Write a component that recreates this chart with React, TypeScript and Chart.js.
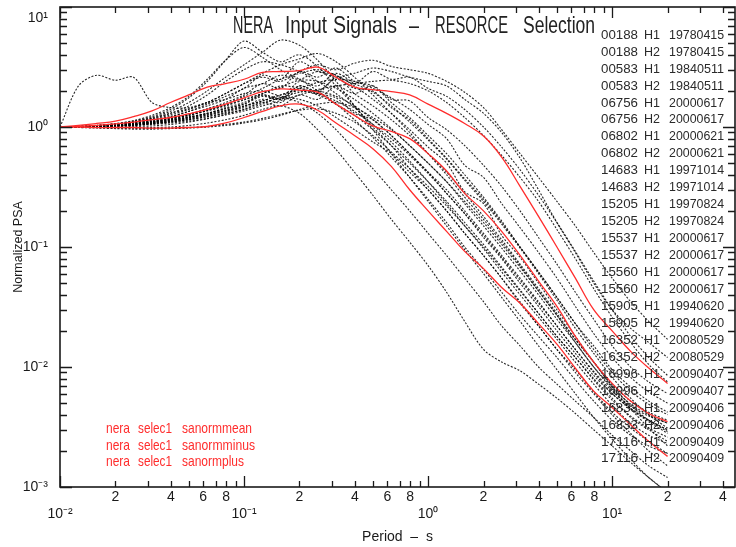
import React, { useEffect, useRef } from 'react';
import { Chart, registerables } from 'chart.js';
Chart.register(...registerables);

// ---------------- data ----------------
const PERIODS = [0.01, 0.0126, 0.0158, 0.02, 0.0251, 0.0316, 0.0398, 0.0501, 0.0631, 0.0794,
  0.1, 0.126, 0.158, 0.2, 0.251, 0.316, 0.398, 0.501, 0.631, 0.794,
  1, 1.26, 1.58, 2, 2.51, 3.16, 3.98, 5.01, 6.31, 7.94,
  10, 12.6, 15.8, 20];

const SANORM_MEAN = [1.0, 1.01, 1.03, 1.06, 1.1, 1.15, 1.2, 1.29, 1.4, 1.55, 1.75, 1.97, 2.08, 2.03, 1.95, 1.55, 1.25, 1.02, 0.92, 0.8, 0.6, 0.43, 0.28, 0.2, 0.135, 0.085, 0.052, 0.032, 0.018, 0.011, 0.0073, 0.0052, 0.0041, 0.0035];
const SANORM_MINUS = [1.0, 1.0, 0.99, 0.99, 0.99, 0.98, 0.98, 0.99, 1.01, 1.08, 1.2, 1.35, 1.5, 1.55, 1.38, 1.08, 0.85, 0.66, 0.47, 0.3, 0.2, 0.135, 0.092, 0.066, 0.046, 0.034, 0.023, 0.0155, 0.0098, 0.0063, 0.0046, 0.0033, 0.0024, 0.0018];
const SANORM_PLUS = [1.0, 1.03, 1.07, 1.12, 1.22, 1.36, 1.6, 1.85, 2.15, 2.3, 2.5, 2.85, 2.9, 2.95, 3.15, 2.6, 2.15, 2.05, 1.97, 1.85, 1.55, 1.3, 1.07, 0.84, 0.56, 0.32, 0.18, 0.1, 0.055, 0.03, 0.02, 0.0135, 0.0098, 0.0073];

const S00188_H1 = [1.0, 1.01, 1.03, 1.06, 1.1, 1.18, 1.3, 1.42, 1.6, 1.9, 2.3, 2.6, 2.4, 2.9, 3.3, 3.0, 3.4, 3.6, 3.2, 3.0, 2.8, 2.4, 1.95, 1.45, 0.95, 0.6, 0.38, 0.24, 0.15, 0.09, 0.055, 0.035, 0.024, 0.017];
const S00188_H2 = [1.0, 1.0, 1.02, 1.04, 1.08, 1.14, 1.22, 1.35, 1.5, 1.7, 2.1, 2.3, 2.7, 2.5, 2.9, 2.6, 2.8, 3.1, 2.9, 2.6, 2.4, 2.2, 1.7, 1.3, 0.9, 0.55, 0.3, 0.16, 0.09, 0.05, 0.03, 0.021, 0.016, 0.012];
const S00583_H1 = [1.0, 2.2, 2.7, 2.45, 2.6, 1.6, 1.45, 1.45, 1.6, 1.7, 1.9, 2.0, 1.8, 1.7, 1.5, 1.2, 0.95, 0.75, 0.6, 0.42, 0.3, 0.2, 0.13, 0.085, 0.055, 0.034, 0.022, 0.014, 0.0095, 0.0062, 0.0042, 0.0031, 0.0024, 0.0019];
const S00583_H2 = [1.0, 1.0, 1.01, 1.03, 1.05, 1.1, 1.15, 1.22, 1.3, 1.45, 1.6, 1.85, 1.7, 2.2, 1.9, 1.75, 1.3, 1.15, 0.85, 0.6, 0.42, 0.28, 0.19, 0.12, 0.08, 0.05, 0.032, 0.02, 0.013, 0.0085, 0.006, 0.0045, 0.0036, 0.003];
const S06756_H1 = [1.0, 1.0, 1.02, 1.05, 1.1, 1.2, 1.35, 1.6, 2.0, 2.6, 3.3, 4.2, 5.3, 4.8, 3.6, 2.4, 1.5, 0.95, 0.6, 0.38, 0.24, 0.15, 0.095, 0.06, 0.038, 0.024, 0.015, 0.0095, 0.006, 0.0038, 0.0025, 0.0017, 0.0012, 0.0009];
const S06756_H2 = [1.0, 1.01, 1.03, 1.06, 1.12, 1.22, 1.4, 1.75, 2.4, 3.6, 5.2, 4.2, 3.5, 4.0, 3.2, 2.2, 1.5, 1.0, 0.7, 0.45, 0.3, 0.2, 0.13, 0.085, 0.055, 0.035, 0.022, 0.014, 0.009, 0.006, 0.004, 0.0028, 0.002, 0.0015];
const S06802_H1 = [1.0, 1.0, 1.01, 1.02, 1.04, 1.08, 1.13, 1.2, 1.3, 1.42, 1.55, 1.8, 1.7, 2.2, 2.0, 2.5, 2.1, 2.0, 1.45, 1.15, 0.8, 0.55, 0.37, 0.25, 0.16, 0.1, 0.062, 0.038, 0.023, 0.015, 0.0095, 0.0068, 0.0052, 0.0042];
const S06802_H2 = [1.0, 1.0, 1.0, 1.01, 1.03, 1.06, 1.1, 1.15, 1.22, 1.32, 1.45, 1.6, 1.75, 1.95, 2.0, 1.8, 1.5, 1.15, 0.85, 0.6, 0.42, 0.3, 0.2, 0.13, 0.085, 0.055, 0.035, 0.022, 0.014, 0.009, 0.006, 0.0045, 0.0036, 0.003];
const S14683_H1 = [1.0, 1.0, 0.99, 0.99, 0.98, 0.99, 1.0, 1.03, 1.08, 1.15, 1.25, 1.4, 1.5, 1.3, 0.95, 0.65, 0.42, 0.27, 0.17, 0.11, 0.07, 0.042, 0.024, 0.014, 0.011, 0.0093, 0.0072, 0.0055, 0.0041, 0.003, 0.0022, 0.0016, 0.0012, 0.0009];
const S14683_H2 = [1.0, 1.0, 1.0, 1.0, 1.01, 1.02, 1.05, 1.1, 1.17, 1.28, 1.4, 1.55, 1.75, 1.6, 1.3, 0.95, 0.65, 0.45, 0.3, 0.2, 0.13, 0.085, 0.055, 0.035, 0.022, 0.015, 0.01, 0.0072, 0.0052, 0.0038, 0.0027, 0.002, 0.0015, 0.0012];
const S15205_H1 = [1.0, 1.01, 1.02, 1.04, 1.08, 1.14, 1.22, 1.35, 1.55, 1.8, 2.1, 2.7, 2.5, 3.5, 2.9, 2.7, 1.9, 1.5, 1.15, 0.85, 0.6, 0.42, 0.28, 0.18, 0.115, 0.072, 0.045, 0.028, 0.017, 0.011, 0.0072, 0.0052, 0.0042, 0.0036];
const S15205_H2 = [1.0, 1.0, 1.01, 1.03, 1.06, 1.1, 1.16, 1.25, 1.38, 1.55, 1.8, 2.1, 2.5, 2.8, 3.0, 2.7, 2.2, 1.7, 1.3, 0.95, 0.68, 0.5, 0.29, 0.23, 0.125, 0.082, 0.05, 0.03, 0.018, 0.011, 0.007, 0.0048, 0.0036, 0.0029];
const S15537_H1 = [1.0, 1.0, 1.01, 1.02, 1.04, 1.07, 1.1, 1.15, 1.22, 1.3, 1.4, 1.6, 1.5, 1.85, 1.7, 2.2, 1.9, 2.2, 1.7, 1.65, 1.2, 0.95, 0.7, 0.48, 0.32, 0.2, 0.12, 0.072, 0.042, 0.025, 0.015, 0.01, 0.0075, 0.006];
const S15537_H2 = [1.0, 1.0, 1.01, 1.03, 1.05, 1.09, 1.14, 1.2, 1.28, 1.38, 1.5, 1.65, 1.85, 2.1, 2.35, 2.5, 2.4, 2.1, 1.75, 1.4, 1.05, 0.8, 0.48, 0.38, 0.23, 0.145, 0.09, 0.055, 0.032, 0.019, 0.012, 0.0082, 0.0062, 0.005];
const S15560_H1 = [1.0, 1.01, 1.02, 1.05, 1.09, 1.16, 1.26, 1.4, 1.6, 1.9, 2.3, 2.8, 3.3, 3.7, 4.1, 3.5, 2.6, 1.85, 1.3, 0.9, 0.6, 0.4, 0.26, 0.17, 0.11, 0.07, 0.043, 0.027, 0.016, 0.01, 0.0065, 0.0045, 0.0035, 0.0028];
const S15560_H2 = [1.0, 1.0, 1.01, 1.03, 1.06, 1.11, 1.18, 1.28, 1.42, 1.6, 1.85, 2.3, 2.1, 2.9, 2.6, 3.1, 2.4, 2.2, 1.6, 1.2, 0.85, 0.6, 0.4, 0.26, 0.165, 0.1, 0.062, 0.038, 0.023, 0.014, 0.009, 0.0063, 0.0049, 0.004];
const S15905_H1 = [1.0, 0.99, 0.98, 0.97, 0.96, 0.96, 0.97, 0.98, 1.0, 1.03, 1.08, 1.15, 1.25, 1.4, 1.55, 1.6, 1.45, 1.2, 0.95, 0.7, 0.5, 0.35, 0.24, 0.16, 0.105, 0.068, 0.043, 0.027, 0.017, 0.011, 0.0068, 0.0045, 0.0031, 0.0022];
const S15905_H2 = [1.0, 1.0, 0.99, 0.98, 0.98, 0.97, 0.98, 0.99, 1.01, 1.05, 1.1, 1.18, 1.28, 1.38, 1.42, 1.3, 1.1, 0.85, 0.62, 0.45, 0.32, 0.22, 0.15, 0.1, 0.066, 0.043, 0.028, 0.018, 0.012, 0.008, 0.0055, 0.0038, 0.003, 0.0024];
const S16352_H1 = [1.0, 1.0, 1.01, 1.02, 1.04, 1.07, 1.11, 1.17, 1.25, 1.35, 1.48, 1.7, 1.6, 2.1, 1.9, 2.6, 2.3, 2.9, 2.5, 2.6, 2.1, 1.8, 1.4, 1.0, 0.68, 0.44, 0.27, 0.16, 0.092, 0.052, 0.03, 0.018, 0.012, 0.0085];
const S16352_H2 = [1.0, 1.0, 1.01, 1.02, 1.03, 1.05, 1.08, 1.12, 1.18, 1.26, 1.36, 1.5, 1.66, 1.85, 2.05, 2.2, 2.3, 2.4, 2.45, 2.3, 2.0, 1.6, 1.2, 0.85, 0.58, 0.38, 0.24, 0.14, 0.08, 0.045, 0.026, 0.016, 0.0105, 0.0075];
const S16996_H1 = [1.0, 1.01, 1.03, 1.07, 1.13, 1.25, 1.45, 1.8, 2.5, 3.6, 4.6, 3.8, 3.0, 2.5, 2.0, 1.55, 1.15, 0.82, 0.56, 0.38, 0.25, 0.16, 0.1, 0.065, 0.042, 0.027, 0.018, 0.012, 0.0078, 0.0052, 0.0036, 0.0027, 0.0022, 0.0019];
const S16996_H2 = [1.0, 1.0, 1.02, 1.05, 1.1, 1.18, 1.3, 1.5, 1.85, 2.4, 3.0, 3.5, 3.3, 2.9, 2.4, 1.9, 1.45, 1.05, 0.75, 0.52, 0.35, 0.23, 0.15, 0.097, 0.062, 0.04, 0.026, 0.017, 0.011, 0.0072, 0.0048, 0.0034, 0.0027, 0.0023];
const S16833_H1 = [1.0, 1.0, 1.01, 1.02, 1.04, 1.07, 1.12, 1.18, 1.26, 1.37, 1.5, 1.65, 1.85, 2.0, 1.85, 1.55, 1.25, 0.95, 0.7, 0.5, 0.35, 0.24, 0.16, 0.105, 0.068, 0.044, 0.028, 0.018, 0.012, 0.0078, 0.0053, 0.0039, 0.0031, 0.0026];
const S16833_H2 = [1.0, 1.0, 1.02, 1.04, 1.07, 1.12, 1.18, 1.26, 1.37, 1.52, 1.7, 1.9, 2.2, 2.1, 1.9, 1.65, 1.35, 1.05, 0.8, 0.58, 0.41, 0.28, 0.19, 0.125, 0.082, 0.053, 0.034, 0.022, 0.014, 0.0092, 0.0063, 0.0047, 0.0039, 0.0034];
const S17116_H1 = [1.0, 1.0, 1.01, 1.03, 1.05, 1.09, 1.14, 1.21, 1.3, 1.42, 1.56, 1.85, 1.75, 2.4, 2.2, 2.8, 2.3, 1.95, 1.5, 1.1, 0.78, 0.54, 0.36, 0.24, 0.155, 0.098, 0.06, 0.036, 0.021, 0.013, 0.0082, 0.0055, 0.004, 0.0031];
const S17116_H2 = [1.0, 1.0, 1.02, 1.04, 1.07, 1.11, 1.17, 1.25, 1.36, 1.5, 1.68, 1.9, 2.15, 2.45, 2.4, 2.1, 1.7, 1.3, 0.97, 0.7, 0.5, 0.35, 0.23, 0.15, 0.098, 0.063, 0.04, 0.025, 0.016, 0.01, 0.0068, 0.0049, 0.004, 0.0034];

const RECORD_SERIES = [S00188_H1, S00188_H2, S00583_H1, S00583_H2, S06756_H1, S06756_H2, S06802_H1, S06802_H2,
  S14683_H1, S14683_H2, S15205_H1, S15205_H2, S15537_H1, S15537_H2, S15560_H1, S15560_H2,
  S15905_H1, S15905_H2, S16352_H1, S16352_H2, S16996_H1, S16996_H2, S16833_H1, S16833_H2, S17116_H1, S17116_H2];
const RECORD_CODES = ['00188', '00188', '00583', '00583', '06756', '06756', '06802', '06802', '14683', '14683', '15205', '15205', '15537', '15537', '15560', '15560', '15905', '15905', '16352', '16352', '16996', '16996', '16833', '16833', '17116', '17116'];
const RECORD_COMPONENTS = ['H1', 'H2', 'H1', 'H2', 'H1', 'H2', 'H1', 'H2', 'H1', 'H2', 'H1', 'H2', 'H1', 'H2', 'H1', 'H2', 'H1', 'H2', 'H1', 'H2', 'H1', 'H2', 'H1', 'H2', 'H1', 'H2'];
const RECORD_DATES = ['19780415', '19780415', '19840511', '19840511', '20000617', '20000617', '20000621', '20000621', '19971014', '19971014', '19970824', '19970824', '20000617', '20000617', '20000617', '20000617', '19940620', '19940620', '20080529', '20080529', '20090407', '20090407', '20090406', '20090406', '20090409', '20090409'];

const RED_SERIES = [SANORM_MEAN, SANORM_MINUS, SANORM_PLUS];
const RED_WORDS = [['nera', 'selec1', 'sanormmean'], ['nera', 'selec1', 'sanormminus'], ['nera', 'selec1', 'sanormplus']];
const TITLE_WORDS = ['NERA', 'Input', 'Signals', '\u2013', 'RESORCE', 'Selection'];

const X_MIN = 0.01;
const X_MAX = 46.5;
const Y_MIN = 0.001;
const Y_MAX = 10;

// ---------------- helpers ----------------
const RED = 'rgb(255,45,45)';
const INK = '#1a1a1a';
const SUP: Record<string, string> = { '-': '\u207B', '0': '\u2070', '1': '\u00B9', '2': '\u00B2', '3': '\u00B3', '4': '\u2074', '5': '\u2075', '6': '\u2076', '7': '\u2077', '8': '\u2078', '9': '\u2079' };
const sup = (n: number) => String(n).split('').map((c) => SUP[c]).join('');
function decomp(v: number) {
  const e = Math.floor(Math.log10(v) + 1e-9);
  const m = Math.round((v / Math.pow(10, e)) * 1000) / 1000;
  return { e, m };
}

function fitText(ctx: CanvasRenderingContext2D, text: string, x: number, y: number, w: number | null, font: string) {
  ctx.font = font;
  const mw = ctx.measureText(text).width || 1;
  ctx.save();
  ctx.translate(x, y);
  if (w) ctx.scale(w / mw, 1);
  ctx.textAlign = 'left';
  ctx.textBaseline = 'alphabetic';
  ctx.fillText(text, 0, 0);
  ctx.restore();
}

const framePlugin = {
  id: 'frame',
  afterDatasetsDraw(chart: any) {
    const { ctx, chartArea: a, scales } = chart;
    const xs = scales.x;
    const ys = scales.y;
    ctx.save();
    ctx.strokeStyle = INK;
    ctx.lineWidth = 1.6;
    ctx.strokeRect(a.left, a.top, a.right - a.left, a.bottom - a.top);
    ctx.lineWidth = 1.3;
    ctx.beginPath();
    for (let e = -2; e <= 1; e++) {
      for (let m = 1; m <= 9; m++) {
        const v = m * Math.pow(10, e);
        if (v > X_MAX) break;
        const px = Math.round(xs.getPixelForValue(v)) + 0.5;
        const len = m === 1 ? 11 : 6;
        ctx.moveTo(px, a.bottom); ctx.lineTo(px, a.bottom - len);
        ctx.moveTo(px, a.top); ctx.lineTo(px, a.top + len);
      }
    }
    for (let e = -3; e <= 1; e++) {
      for (let m = 1; m <= 9; m++) {
        const v = m * Math.pow(10, e);
        if (v > Y_MAX + 1e-9) break;
        const py = Math.round(ys.getPixelForValue(v)) + 0.5;
        const len = m === 1 ? 12 : 7;
        ctx.moveTo(a.left, py); ctx.lineTo(a.left + len, py);
        ctx.moveTo(a.right, py); ctx.lineTo(a.right - len, py);
      }
    }
    ctx.stroke();
    ctx.restore();
  },
  afterDraw(chart: any) {
    const { ctx } = chart;
    ctx.save();
    // title
    ctx.fillStyle = '#222';
    const tx = [233, 285, 333, 409, 435, 523];
    const tw = [40, 42, 64, 10, 73, 72];
    TITLE_WORDS.forEach((w, i) => fitText(ctx, w, tx[i], 33, tw[i], '24px "Liberation Sans"'));
    // record list
    ctx.fillStyle = '#2a2a2a';
    RECORD_CODES.forEach((code, i) => {
      const yb = 34 + i * 16.95 + 4.7;
      fitText(ctx, code, 601, yb, 37, '13px "Liberation Sans"');
      fitText(ctx, RECORD_COMPONENTS[i], 644, yb, 16, '13px "Liberation Sans"');
      fitText(ctx, RECORD_DATES[i], 669, yb, 55, '13px "Liberation Sans"');
    });
    // red legend
    ctx.fillStyle = RED;
    const ry = [433, 449.5, 466];
    const thirdW = [70, 73, 62];
    RED_WORDS.forEach((words, i) => {
      fitText(ctx, words[0], 106, ry[i], 24, '15px "Liberation Sans"');
      fitText(ctx, words[1], 138, ry[i], 34, '15px "Liberation Sans"');
      fitText(ctx, words[2], 182, ry[i], thirdW[i], '15px "Liberation Sans"');
    });
    ctx.restore();
  },
};

export default function App() {
  const ref = useRef<HTMLCanvasElement>(null);
  useEffect(() => {
    const canvas = ref.current;
    if (!canvas) return;
    const datasets: any[] = [
      ...RED_SERIES.map((vals, i) => ({
        label: RED_WORDS[i].join(' '),
        data: PERIODS.map((x, j) => ({ x, y: vals[j] })),
        borderColor: RED,
        backgroundColor: RED,
        borderWidth: 1.3,
        pointRadius: 0,
        tension: 0.4,
        fill: false,
      })),
      ...RECORD_SERIES.map((vals, i) => ({
        label: `${RECORD_CODES[i]} ${RECORD_COMPONENTS[i]} ${RECORD_DATES[i]}`,
        data: PERIODS.map((x, j) => ({ x, y: vals[j] })),
        borderColor: 'rgba(0,0,0,0.85)',
        backgroundColor: 'rgba(0,0,0,0.85)',
        borderWidth: 1.1,
        borderDash: [2, 1.6],
        pointRadius: 0,
        tension: 0.3,
        fill: false,
      })),
    ];
    const chart = new Chart(canvas, {
      type: 'line',
      data: { datasets },
      options: {
        animation: false,
        responsive: false,
        maintainAspectRatio: false,
        layout: { padding: { top: 7, right: 1, left: 0, bottom: 0 } },
        plugins: { legend: { display: false }, tooltip: { enabled: false }, title: { display: false } },
        scales: {
          x: {
            type: 'logarithmic',
            min: X_MIN,
            max: X_MAX,
            grid: { display: false, drawTicks: false },
            border: { display: false },
            ticks: {
              autoSkip: false,
              maxRotation: 0,
              minRotation: 0,
              padding: 2,
              color: INK,
              font: { family: '"Liberation Sans"', size: 14, lineHeight: 1.2 },
              callback: (value: any) => {
                const { e, m } = decomp(Number(value));
                if (Math.abs(m - 1) < 1e-6) return ['', '10' + sup(e)];
                if (m === 2 || m === 4 || m === 6 || m === 8) return String(m);
                return '';
              },
            },
            title: {
              display: true,
              text: 'Period  \u2013  s',
              color: INK,
              font: { family: '"Liberation Sans"', size: 14, lineHeight: 1.2 },
              padding: { top: 0, bottom: 1 },
            },
            afterFit: (s: any) => { s.height = 60; s.paddingLeft = 0; s.paddingRight = 0; },
          },
          y: {
            type: 'logarithmic',
            min: Y_MIN,
            max: Y_MAX,
            grid: { display: false, drawTicks: false },
            border: { display: false },
            ticks: {
              autoSkip: false,
              padding: 12,
              color: INK,
              font: { family: '"Liberation Sans"', size: 14, lineHeight: 1.6 },
              callback: (value: any) => {
                const { e, m } = decomp(Number(value));
                if (Math.abs(m - 1) < 1e-6) return e === 1 ? ['', '10' + sup(e)] : '10' + sup(e);
                return '';
              },
            },
            title: {
              display: true,
              text: 'Normalized PSA',
              color: INK,
              font: { family: '"Liberation Sans"', size: 12.5, lineHeight: 1.2 },
              padding: { top: 11, bottom: 0 },
            },
            afterFit: (s: any) => { s.width = 60; s.paddingTop = 0; s.paddingBottom = 0; },
          },
        },
      } as any,
      plugins: [framePlugin],
    });
    return () => chart.destroy();
  }, []);
  return (
    <div style={{ position: 'fixed', left: 0, top: 0, width: 736, height: 547, background: '#fff' }}>
      <canvas ref={ref} width={736} height={547} style={{ display: 'block', width: 736, height: 547 }} />
    </div>
  );
}
